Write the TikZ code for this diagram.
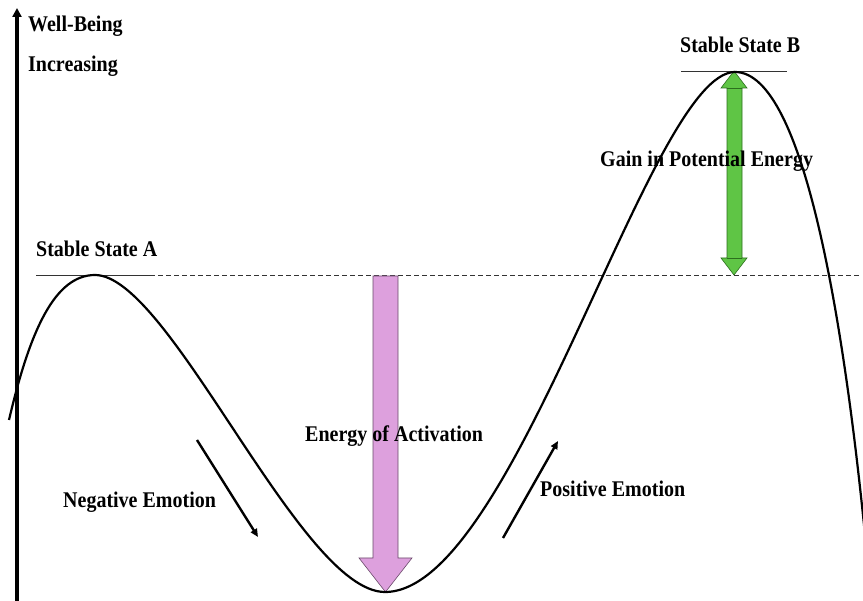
\documentclass[tikz,border=0pt]{standalone}
\usepackage{fontspec}
\setmainfont{Liberation Serif}
\usetikzlibrary{arrows.meta}
\definecolor{pinkfill}{HTML}{DDA0DD}
\definecolor{pinkline}{HTML}{6A4A6A}
\definecolor{greenfill}{HTML}{5FC545}
\definecolor{greenline}{HTML}{2C6E1E}
\newcommand{\tallbf}[1]{\scalebox{1}[1.12]{#1}}
\tikzset{
  lbl/.style={inner sep=0pt, font=\fontsize{20}{24}\selectfont\bfseries, anchor=base west},
  curve/.style={line width=2.2pt, black},
  level/.style={line width=0.9pt, black!80},
  emo/.style={line width=2.4pt, -{Triangle[length=8pt,width=7pt]}},
}
\begin{document}
\begin{tikzpicture}[x=1pt,y=-1pt]
\useasboundingbox (0,0) rectangle (863,601);
% reference levels
\draw[level] (36,275) -- (150,275);
\draw[level, dashed, dash pattern=on 5pt off 3pt] (150,275) -- (860,275);
\draw[level] (681,71) -- (787,71);
% activation arrow
\filldraw[fill=pinkfill, draw=pinkline, line width=0.6pt]
  (373,276) -- (398,276) -- (398,558) -- (412,558) -- (385.5,592) -- (359,558) -- (373,558) -- cycle;
% gain arrow
\filldraw[fill=greenfill, draw=greenline, line width=0.6pt]
  (734,71) -- (747,88) -- (742,88) -- (742,258) -- (747,258) -- (734,275) -- (721,258) -- (727,258) -- (727,88) -- (721,88) -- cycle;
\draw[greenline, line width=0.6pt] (727,88) -- (742,88) (727,258) -- (742,258);
% curve
\begin{scope}
\clip (0,0) rectangle (863,601);
\draw[curve] (9,420) .. controls (30,330) and (55,275) .. (95,275)
  .. controls (170,275) and (300,592) .. (385,592)
  .. controls (515,592) and (650,72) .. (735,72)
  .. controls (805,72) and (845,330) .. (866,545);
\end{scope}
% axis
\coordinate (axb) at (17,601);
\coordinate (axt) at (17,8);
\draw[line width=4pt, -{Triangle[length=9pt,width=9pt]}] (axb) -- (axt);
% labels
\node[lbl] (wb) at (28,32) {\tallbf{Well-Being}};
\node[lbl] (inc) at (28,72) {\tallbf{Increasing}};
\node[lbl] (ssa) at (36,257) {\tallbf{Stable State A}};
\node[lbl] (ssb) at (680,53) {\tallbf{Stable State B}};
\node[lbl] (gain) at (600,167) {\tallbf{Gain in Potential Energy}};
\node[lbl] (act) at (305,442) {\tallbf{Energy of Activation}};
\node[lbl] (neg) at (63,508) {\tallbf{Negative Emotion}};
\node[lbl] (pos) at (540,497) {\tallbf{Positive Emotion}};
% emotion arrows
\coordinate (n1) at (197,440);
\coordinate (n2) at (258,537);
\coordinate (p1) at (503,538);
\coordinate (p2) at (558,441);
\draw[emo] (n1) -- (n2);
\draw[emo] (p1) -- (p2);
\end{tikzpicture}
\end{document}
